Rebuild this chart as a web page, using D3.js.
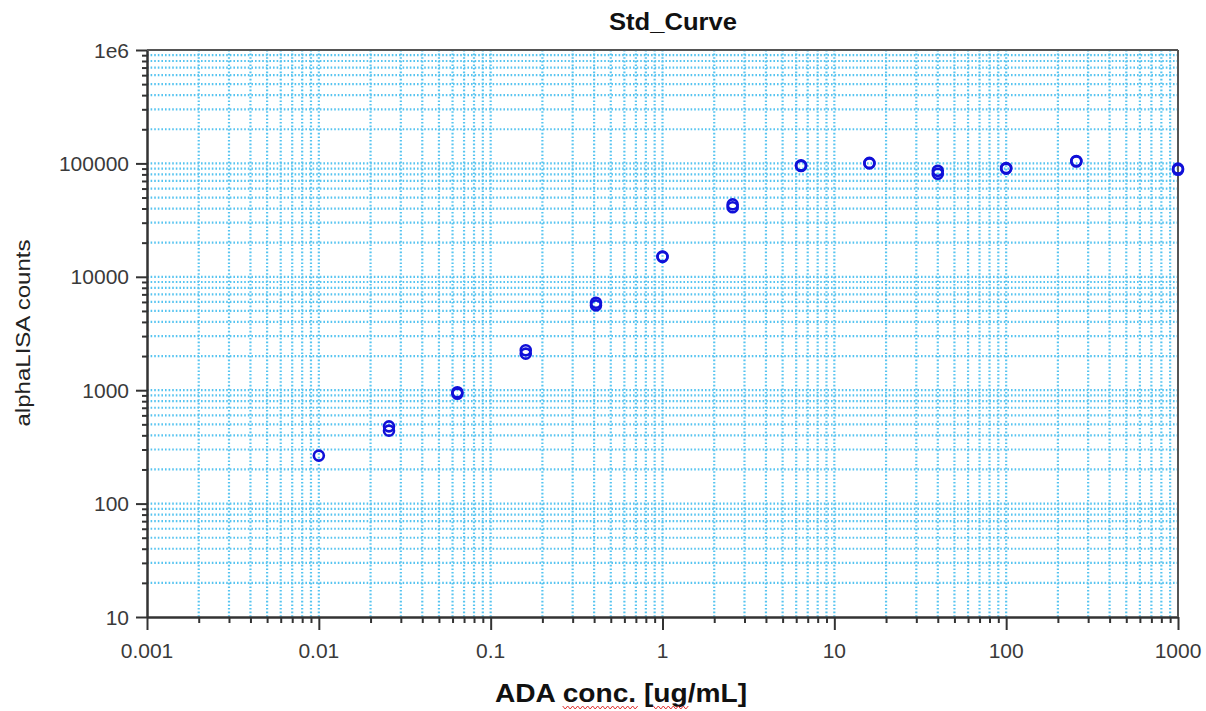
<!DOCTYPE html>
<html>
<head>
<meta charset="utf-8">
<script src="https://cdn.jsdelivr.net/npm/d3@7"></script>
<style>
  body { margin: 0; background: #fff; }
  text { font-family: "Liberation Sans", Arial, sans-serif; }
</style>
</head>
<body>
<div id="chart"></div>
<script>
// ADA standard curve, duplicate wells per concentration
const conc = [0.01, 0.0256, 0.0256, 0.064, 0.064, 0.16, 0.16, 0.41, 0.41, 1.0, 1.0,
              2.56, 2.56, 6.4, 6.4, 16, 16, 40, 40, 100, 100, 256, 256, 1000, 1000];
const counts = [265, 480, 440, 960, 930, 2250, 2100, 5900, 5600, 15100, 15000,
                43500, 41000, 96000, 95000, 101000, 100000, 86000, 81000, 91000, 90000,
                105000, 104000, 90000, 88000];
const xTickLabels = ["0.001", "0.01", "0.1", "1", "10", "100", "1000"];
const yTickLabels = ["10", "100", "1000", "10000", "100000", "1e6"];

const width = 1206, height = 711;
const margin = { top: 50, right: 28, bottom: 94, left: 147 };

const svg = d3.select("#chart").append("svg")
    .attr("width", width)
    .attr("height", height);

const x = d3.scaleLog()
    .domain([0.001, 1000])
    .range([margin.left, width - margin.right]);
const y = d3.scaleLog()
    .domain([10, 1e6])
    .range([height - margin.bottom, margin.top]);

// every 1..9 step inside each decade
const xMinor = [], yMinor = [];
for (let e = -3; e < 3; e++) for (let k = 1; k < 10; k++) xMinor.push(k * Math.pow(10, e));
xMinor.push(1000);
for (let e = 1; e < 6; e++) for (let k = 1; k < 10; k++) yMinor.push(k * Math.pow(10, e));
yMinor.push(1e6);

const gridColor = "#56c4f0";
const grid = svg.append("g")
    .attr("stroke", gridColor)
    .attr("stroke-width", 2.2)
    .attr("stroke-dasharray", "1.6,2");

grid.selectAll(".vg").data(xMinor.filter(v => v > 0.001 && v < 1000))
  .join("line")
    .attr("x1", d => x(d)).attr("x2", d => x(d))
    .attr("y1", margin.top).attr("y2", height - margin.bottom);

grid.selectAll(".hg").data(yMinor.filter(v => v > 10 && v < 1e6))
  .join("line")
    .attr("y1", d => y(d)).attr("y2", d => y(d))
    .attr("x1", margin.left).attr("x2", width - margin.right);

// axes
const isMajor = v => Math.abs(Math.log10(v) - Math.round(Math.log10(v))) < 1e-9;

svg.append("g")
    .attr("transform", `translate(0,${height - margin.bottom})`)
    .call(d3.axisBottom(x).tickValues(xMinor).tickFormat(() => "").tickSizeOuter(0))
    .call(g => g.selectAll(".tick line")
        .attr("y2", d => isMajor(d) ? 13 : 6)
        .attr("stroke", "#333").attr("stroke-width", 2))
    .call(g => g.select(".domain").attr("stroke", "#333").attr("stroke-width", 2.5));

svg.append("g")
    .attr("transform", `translate(${margin.left},0)`)
    .call(d3.axisLeft(y).tickValues(yMinor).tickFormat(() => "").tickSizeOuter(0))
    .call(g => g.selectAll(".tick line")
        .attr("x2", d => isMajor(d) ? -11 : -5)
        .attr("stroke", "#333").attr("stroke-width", 2))
    .call(g => g.select(".domain").attr("stroke", "#333").attr("stroke-width", 2.5));

// frame top and right
svg.append("line")
    .attr("x1", margin.left).attr("x2", width - margin.right)
    .attr("y1", margin.top).attr("y2", margin.top)
    .attr("stroke", "#555").attr("stroke-width", 2);
svg.append("line")
    .attr("x1", width - margin.right).attr("x2", width - margin.right)
    .attr("y1", margin.top).attr("y2", height - margin.bottom)
    .attr("stroke", "#555").attr("stroke-width", 2);

// tick labels
svg.append("g").selectAll("text")
  .data(xTickLabels)
  .join("text")
    .attr("x", d => x(+d))
    .attr("y", height - margin.bottom + 41)
    .attr("text-anchor", "middle")
    .attr("font-size", 21)
    .attr("fill", "#3a3a3a")
    .text(d => d);

svg.append("g").selectAll("text")
  .data(yTickLabels)
  .join("text")
    .attr("x", margin.left - 18)
    .attr("y", d => y(+d) + 7.5)
    .attr("text-anchor", "end")
    .attr("font-size", 21)
    .attr("fill", "#3a3a3a")
    .text(d => d);

// points
svg.append("g")
    .selectAll("circle")
    .data(conc.map((c, i) => ({ c, v: counts[i] })))
    .join("circle")
    .attr("cx", d => x(d.c))
    .attr("cy", d => y(d.v))
    .attr("r", 5)
    .attr("fill", "none")
    .attr("stroke", "#1010d8")
    .attr("stroke-width", 2.6);

// titles
svg.append("text")
    .attr("x", 673).attr("y", 30)
    .attr("text-anchor", "middle")
    .attr("font-size", 23).attr("font-weight", "bold")
    .attr("textLength", 128).attr("lengthAdjust", "spacingAndGlyphs")
    .attr("fill", "#111")
    .text("Std_Curve");

svg.append("text")
    .attr("transform", "translate(30,333) rotate(-90)")
    .attr("text-anchor", "middle")
    .attr("font-size", 21)
    .attr("textLength", 187).attr("lengthAdjust", "spacingAndGlyphs")
    .attr("fill", "#222")
    .text("alphaLISA counts");

const xl = svg.append("text")
    .attr("x", 621).attr("y", 702)
    .attr("text-anchor", "middle")
    .attr("font-size", 25).attr("font-weight", "bold")
    .attr("textLength", 252).attr("lengthAdjust", "spacingAndGlyphs")
    .attr("fill", "#111")
    .text("ADA conc. [ug/mL]");

// spell-check squiggles under "conc." and "ug"
const node = xl.node();
function squiggle(i0, n) {
  const a = node.getStartPositionOfChar(i0).x;
  const b = node.getEndPositionOfChar(i0 + n - 1).x;
  let d = `M${a},706`;
  for (let px = a, k = 0; px < b; px += 2.5, k++) d += `L${px + 2.5},${k % 2 ? 706 : 709}`;
  svg.append("path").attr("d", d).attr("fill", "none")
     .attr("stroke", "#e03030").attr("stroke-width", 1);
}
squiggle(4, 5);
squiggle(11, 2);
</script>
</body>
</html>
